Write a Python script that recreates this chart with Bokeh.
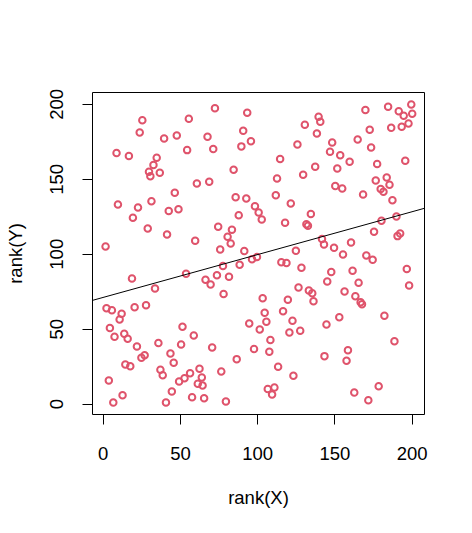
from bokeh.plotting import figure
from bokeh.models import Range1d, FixedTicker, Slope, ColumnDataSource
from bokeh.embed import file_html
from bokeh.resources import INLINE

# Points (rank(X), rank(Y))
rank_x = [25.3, 55.4, 23.6, 39.4, 47.6, 8.6, 16.6, 54.3, 34.6, 32.5, 29.6, 36.6, 30.5, 60.6, 46.3, 9.5, 22.5, 31.2, 42.4, 48.7, 19.2, 28.8, 41.3, 59.5, 1.5,
          72.3, 93.2, 67.5, 90.6, 71.2, 89.4, 95.6, 130.5, 125.7, 114.5, 84.4, 68.6, 112.5, 129.4, 85.7, 92.6, 111.7, 121.4, 98.2, 100.6, 102.6, 87.7, 134.4, 117.7, 131.5, 132.5, 74.4, 83.3, 80.5, 82.5, 75.7, 91.3, 124.7,
          169.7, 184.4, 191.3, 199.4, 200.0, 194.5, 139.4, 140.5, 138.3, 172.5, 186.4, 193.2, 197.6, 164.7, 148.2, 173.4, 146.8, 153.4, 159.5, 177.3, 195.5, 137.2, 151.5, 176.4, 183.5, 185.3, 179.6, 181.4, 150.2, 154.7, 168.2, 187.2, 180.1, 189.8, 175.3, 190.5, 192.2, 141.6, 142.9, 149.4, 160.4, 155.2, 170.3,
          174.4, 196.5, 198.0, 147.6, 145.0, 161.4, 165.3, 156.2, 163.2, 166.6, 167.5, 152.8, 144.5, 182.0, 188.5, 158.4, 157.5, 143.2, 178.3, 162.5, 171.6,
          99.5, 96.3, 88.3, 77.5, 115.3, 118.6, 128.3, 73.6, 81.4, 66.2, 69.5, 77.9, 126.4, 133.1, 135.3, 136.1, 103.2, 119.5, 104.5, 116.4, 105.6, 94.5, 101.3, 122.5, 120.5, 127.5, 108.2, 97.6, 107.5, 70.5, 86.4, 113.2, 123.1, 76.4, 106.5, 110.8, 109.3, 79.4,
          18.6, 53.6, 33.5, 2.1, 5.6, 11.9, 10.6, 20.3, 27.7, 4.3, 7.3, 13.6, 15.8, 21.8, 24.7, 26.8, 35.7, 51.3, 58.6, 50.4, 43.5, 45.6, 14.3, 17.5, 37.0, 38.5, 3.6, 12.5, 6.5, 44.4, 40.6, 49.1, 52.6, 56.2, 62.3, 63.8, 61.2, 64.3, 57.5, 65.3]

rank_y = [189.5, 190.4, 181.3, 177.3, 179.3, 167.5, 165.5, 169.5, 164.4, 159.5, 155.1, 154.4, 152.1, 147.3, 141.1, 133.2, 131.2, 135.4, 128.8, 130.1, 124.4, 117.2, 113.2, 109.0, 105.2,
          197.5, 194.5, 178.4, 182.4, 170.2, 172.0, 175.5, 186.4, 173.3, 163.5, 156.4, 148.4, 150.6, 153.1, 138.1, 137.2, 139.3, 133.9, 132.1, 127.9, 123.2, 126.1, 126.8, 121.0, 120.0, 119.0, 118.4, 116.4, 111.7, 107.2, 103.2, 102.1, 102.3,
          196.2, 198.5, 195.5, 200.0, 193.8, 192.5, 191.8, 188.5, 180.6, 183.1, 184.4, 185.1, 187.3, 176.6, 174.6, 171.3, 168.4, 166.0, 161.7, 160.2, 162.4, 158.4, 157.3, 149.3, 151.3, 146.4, 143.5, 141.7, 145.5, 143.9, 139.9, 136.1, 122.4, 125.2, 115.0, 112.1, 113.9, 110.1, 106.5, 104.3, 107.9, 99.9, 99.2,
          96.3, 90.1, 79.2, 88.1, 81.8, 89.0, 81.0, 75.2, 72.0, 68.0, 66.7, 58.0, 53.1, 58.9, 42.0, 36.0, 28.9, 32.0, 11.9, 7.7, 2.6,
          98.1, 96.7, 93.0, 92.1, 94.7, 94.1, 91.0, 86.0, 85.0, 83.0, 79.8, 73.4, 77.8, 75.8, 74.0, 68.7, 70.7, 69.6, 60.9, 62.0, 54.9, 53.8, 49.8, 55.6, 47.8, 48.9, 42.7, 36.7, 34.9, 37.8, 30.0, 24.9, 18.9, 21.8, 10.0, 11.1, 6.4, 1.7,
          83.8, 87.0, 77.2, 64.0, 62.7, 60.3, 56.5, 64.7, 66.0, 50.7, 44.9, 46.9, 43.6, 38.5, 30.9, 32.6, 40.7, 51.6, 45.8, 39.8, 33.8, 27.6, 26.4, 25.3, 22.9, 19.3, 15.8, 5.9, 1.0, 8.4, 1.0, 15.1, 17.3, 20.6, 23.6, 17.8, 13.6, 12.4, 4.6, 3.9]

tick_values = [0, 50, 100, 150, 200]
line_intercept = 71.2
line_slope = 0.286

FONT = "Liberation Sans"

p = figure(frame_width=332, frame_height=322,
           x_range=Range1d(-6.96, 207.96), y_range=Range1d(-6.96, 207.96),
           output_backend="svg", toolbar_location=None,
           min_border_left=92, min_border_top=92, min_border_right=40, min_border_bottom=111)
p.grid.visible = False
p.outline_line_color = "black"
p.outline_line_alpha = 1.0
p.outline_line_width = 1
p.background_fill_color = "white"
p.border_fill_color = "white"

src = ColumnDataSource(dict(x=rank_x, y=rank_y))
p.scatter("x", "y", source=src, marker="circle", size=6.5, fill_color=None,
          line_color="#DF536B", line_width=2)

p.add_layout(Slope(gradient=line_slope, y_intercept=line_intercept,
                   line_color="black", line_width=1))

p.xaxis.axis_label = "rank(X)"
p.yaxis.axis_label = "rank(Y)"
for ax in (p.xaxis[0], p.yaxis[0]):
    ax.ticker = FixedTicker(ticks=tick_values)
    ax.bounds = (0, 200)
    ax.axis_line_color = "black"
    ax.major_tick_line_color = "black"
    ax.major_tick_out = 10
    ax.major_tick_in = 0
    ax.minor_tick_out = 0
    ax.minor_tick_in = 0
    ax.major_label_text_font = FONT
    ax.major_label_text_font_size = "18.5px"
    ax.major_label_text_color = "black"
    ax.axis_label_text_font = FONT
    ax.axis_label_text_font_size = "18.5px"
    ax.axis_label_text_font_style = "normal"
    ax.axis_label_text_color = "black"

p.yaxis.major_label_orientation = "vertical"
p.yaxis.major_label_standoff = 19
p.yaxis.axis_label_standoff = 22
p.xaxis.major_label_standoff = 22
p.xaxis.axis_label_standoff = 24

open("out.html", "w").write(file_html(p, INLINE))
